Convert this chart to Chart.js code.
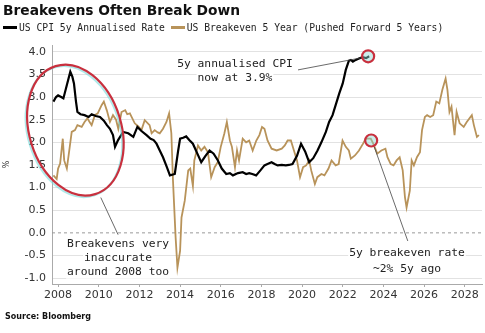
<!DOCTYPE html>
<html>
<head>
<meta charset="utf-8">
<script src="https://cdn.jsdelivr.net/npm/chart.js@4"></script>
<style>
  body { margin: 0; background: #fff; }
  #wrap { position: relative; width: 485px; height: 333px; overflow: hidden; }
  #chartBox { position: absolute; left: 0; top: 0; width: 485px; height: 333px; }
  #titulo { position: absolute; left: 3px; top: 2px; font: bold 13.8px "DejaVu Sans", sans-serif; color: #111; white-space: nowrap; }
  #leyenda { position: absolute; left: 3px; top: 22px; font: 9.7px "DejaVu Sans Mono", monospace; color: #222; white-space: nowrap; }
  #leyenda span.sw { display: inline-block; width: 14px; height: 3px; vertical-align: middle; margin-right: 2px; position: relative; top: -1px; }
  #fuente { position: absolute; left: 5px; top: 312px; font: bold 8px "DejaVu Sans", sans-serif; color: #111; }
</style>
</head>
<body>
<div id="wrap">
  <div id="chartBox"><canvas id="grafico"></canvas></div>
  <div id="titulo">Breakevens Often Break Down</div>
  <div id="leyenda"><span class="sw" style="background:#000"></span>US CPI 5y Annualised Rate <span class="sw" style="background:#b8935a"></span>US Breakeven 5 Year (Pushed Forward 5 Years)</div>
  <div id="fuente">Source: Bloomberg</div>
</div>
<script>
// US CPI 5y annualised rate (black)
const cpiAnios = [2007.77, 2007.9, 2008.0, 2008.15, 2008.26, 2008.45, 2008.6, 2008.7, 2008.78, 2008.88, 2008.95,
  2009.1, 2009.3, 2009.5, 2009.65, 2009.85, 2010.06, 2010.25, 2010.4, 2010.55, 2010.7, 2010.8, 2010.95,
  2011.2, 2011.45, 2011.7, 2011.9, 2012.1, 2012.35, 2012.55, 2012.7, 2012.84, 2013.0, 2013.16, 2013.35,
  2013.5, 2013.74, 2013.9, 2014.0, 2014.15, 2014.3, 2014.45, 2014.63, 2014.85, 2015.04, 2015.25, 2015.45,
  2015.65, 2015.86, 2016.05, 2016.27, 2016.45, 2016.6, 2016.85, 2017.08, 2017.25, 2017.4, 2017.55, 2017.74,
  2017.95, 2018.15, 2018.3, 2018.5, 2018.65, 2018.8, 2019.0, 2019.2, 2019.35, 2019.53, 2019.75, 2019.95,
  2020.15, 2020.35, 2020.55, 2020.76, 2020.95, 2021.17, 2021.33, 2021.5, 2021.67, 2021.83, 2022.0, 2022.15,
  2022.3, 2022.4, 2022.5, 2022.64, 2022.8, 2022.97, 2023.15, 2023.3];
const cpiValores = [2.9, 3.0, 3.04, 3.0, 2.97, 3.3, 3.56, 3.45, 3.3, 2.9, 2.67,
  2.62, 2.6, 2.56, 2.62, 2.58, 2.56, 2.48, 2.38, 2.3, 2.16, 1.9, 2.05,
  2.23, 2.2, 2.12, 2.34, 2.25, 2.16, 2.08, 2.05, 1.97, 1.82, 1.67, 1.45,
  1.27, 1.3, 1.8, 2.08, 2.1, 2.13, 2.05, 1.97, 1.75, 1.56, 1.7, 1.82,
  1.75, 1.6, 1.42, 1.3, 1.32, 1.27, 1.32, 1.34, 1.3, 1.32, 1.3, 1.27,
  1.38, 1.49, 1.52, 1.56, 1.52, 1.49, 1.5, 1.49, 1.5, 1.52, 1.7, 1.97,
  1.8, 1.56, 1.65, 1.82, 2.0, 2.23, 2.45, 2.6, 2.85, 3.08, 3.3, 3.6,
  3.8, 3.82, 3.78, 3.82, 3.85, 3.88, 3.86, 3.9];

// US breakeven 5 year, pushed forward 5 years (gold)
const beAnios = [2007.77, 2007.93, 2008.0, 2008.1, 2008.23, 2008.3, 2008.43, 2008.55, 2008.67, 2008.83, 2008.95,
  2009.16, 2009.3, 2009.44, 2009.55, 2009.65, 2009.81, 2009.95, 2010.14, 2010.25, 2010.4, 2010.55, 2010.7,
  2010.85, 2010.96, 2011.12, 2011.3, 2011.4, 2011.53, 2011.77, 2011.95, 2012.1, 2012.26, 2012.5, 2012.6,
  2012.75, 2012.9, 2013.0, 2013.16, 2013.33, 2013.46, 2013.57, 2013.65, 2013.78, 2013.87, 2014.0, 2014.07,
  2014.23, 2014.4, 2014.5, 2014.63, 2014.7, 2014.88, 2015.04, 2015.2, 2015.37, 2015.53, 2015.7, 2015.85,
  2016.0, 2016.18, 2016.3, 2016.45, 2016.55, 2016.7, 2016.8, 2016.9, 2017.08, 2017.25, 2017.4, 2017.57,
  2017.75, 2017.9, 2018.03, 2018.15, 2018.3, 2018.5, 2018.75, 2019.0, 2019.15, 2019.29, 2019.45, 2019.6,
  2019.75, 2019.9, 2020.05, 2020.2, 2020.35, 2020.45, 2020.63, 2020.75, 2020.95, 2021.1, 2021.3, 2021.45,
  2021.65, 2021.8, 2021.99, 2022.15, 2022.3, 2022.4, 2022.6, 2022.8, 2023.0, 2023.13, 2023.38, 2023.5,
  2023.7, 2023.9, 2024.1, 2024.2, 2024.36, 2024.5, 2024.65, 2024.8, 2024.95, 2025.06, 2025.14, 2025.3,
  2025.39, 2025.5, 2025.65, 2025.8, 2025.9, 2026.04, 2026.15, 2026.3, 2026.45, 2026.6, 2026.75, 2026.9,
  2027.06, 2027.15, 2027.25, 2027.35, 2027.5, 2027.6, 2027.75, 2027.95, 2028.1, 2028.35, 2028.45, 2028.6, 2028.7];
const beValores = [1.27, 1.19, 1.42, 1.53, 2.08, 1.6, 1.42, 1.82, 2.23, 2.27, 2.38,
  2.34, 2.45, 2.53, 2.45, 2.38, 2.6, 2.64, 2.82, 2.9, 2.7, 2.45, 2.6,
  2.5, 2.3, 2.67, 2.71, 2.62, 2.64, 2.42, 2.35, 2.27, 2.49, 2.38, 2.2,
  2.27, 2.22, 2.2, 2.3, 2.45, 2.64, 2.2, 1.16, -0.1, -0.77, -0.4, 0.34,
  0.71, 1.38, 1.42, 1.04, 1.6, 1.93, 1.82, 1.9, 1.78, 1.23, 1.45, 1.56,
  1.9, 2.2, 2.45, 2.04, 1.9, 1.45, 1.82, 1.6, 2.08, 2.0, 2.04, 1.82,
  2.04, 2.16, 2.34, 2.3, 2.04, 1.86, 1.82, 1.86, 1.93, 2.04, 2.04, 1.82,
  1.6, 1.23, 1.45, 1.49, 1.6, 1.38, 1.08, 1.23, 1.3, 1.27, 1.42, 1.6,
  1.49, 1.52, 2.04, 1.9, 1.82, 1.64, 1.71, 1.82, 1.97, 2.08, 2.08, 1.97,
  1.75, 1.82, 1.86, 1.67, 1.52, 1.49, 1.6, 1.67, 1.38, 0.79, 0.56, 0.93,
  1.6, 1.49, 1.67, 1.78, 2.27, 2.56, 2.6, 2.56, 2.6, 2.9, 2.86, 3.16,
  3.41, 3.16, 2.67, 2.79, 2.16, 2.67, 2.42, 2.34, 2.45, 2.6, 2.38, 2.12, 2.16];

const ejeXMin = 2007.7, ejeXMax = 2028.85;
const ejeYMin = -1.13, ejeYMax = 4.15;

// notas sobre el grafico (coordenadas en datos)
const circulos = [{ x: 2023.25, y: 3.9 }, { x: 2023.4, y: 2.04 }];
const ovalo = { x: 2008.85, y: 2.27 };
const notas = [
  { x: 2016.7, y: 3.73, lineas: ["5y annualised CPI", "now at 3.9%"], paso: 14 },
  { x: 2010.95, y: -0.24, lineas: ["Breakevens very", "inaccurate", "around 2008 too"], paso: 14 },
  { x: 2025.16, y: -0.44, lineas: ["5y breakeven rate", "~2% 5y ago"], paso: 16 }
];
const conectores = [
  [{ x: 2019.8, y: 3.6 }, { x: 2022.95, y: 3.87 }],
  [{ x: 2010.1, y: 0.78 }, { x: 2010.95, y: -0.04 }],
  [{ x: 2023.55, y: 1.9 }, { x: 2025.2, y: -0.18 }]
];

const pares = (xs, ys) => xs.map((x, i) => ({ x: x, y: ys[i] }));

const notasPlugin = {
    id: "notas",
    beforeDatasetsDraw(chart) {
        const { ctx, chartArea, scales } = chart;
        const y0 = scales.y.getPixelForValue(0);
        ctx.save();
        ctx.strokeStyle = "#9a9a9a";
        ctx.lineWidth = 1;
        ctx.setLineDash([3, 3]);
        ctx.beginPath();
        ctx.moveTo(chartArea.left, y0);
        ctx.lineTo(chartArea.right, y0);
        ctx.stroke();
        ctx.restore();
    },
    afterDatasetsDraw(chart) {
        const { ctx, scales } = chart;
        const px = p => [scales.x.getPixelForValue(p.x), scales.y.getPixelForValue(p.y)];
        ctx.save();

        // conectores
        ctx.strokeStyle = "#444";
        ctx.lineWidth = 0.8;
        conectores.forEach(c => {
            const a = px(c[0]), b = px(c[1]);
            ctx.beginPath();
            ctx.moveTo(a[0], a[1]);
            ctx.lineTo(b[0], b[1]);
            ctx.stroke();
        });

        // ovalo rojo
        const o = px(ovalo);
        ctx.strokeStyle = "rgba(120,220,220,0.6)";
        ctx.lineWidth = 2;
        ctx.beginPath();
        ctx.ellipse(o[0] - 1.5, o[1] + 1.5, 46, 67, -0.3, 0, Math.PI * 2);
        ctx.stroke();
        ctx.strokeStyle = "#c8303e";
        ctx.lineWidth = 2.2;
        ctx.beginPath();
        ctx.ellipse(o[0], o[1], 46, 67, -0.3, 0, Math.PI * 2);
        ctx.stroke();

        // circulos
        circulos.forEach(c => {
            const p = px(c);
            ctx.fillStyle = "rgba(140,215,210,0.45)";
            ctx.beginPath();
            ctx.arc(p[0], p[1], 6, 0, Math.PI * 2);
            ctx.fill();
            ctx.strokeStyle = "#c8303e";
            ctx.lineWidth = 2.2;
            ctx.stroke();
        });

        // textos
        ctx.fillStyle = "#222";
        ctx.font = '11.3px "DejaVu Sans Mono", monospace';
        ctx.textAlign = "center";
        ctx.textBaseline = "middle";
        notas.forEach(n => {
            const p = px(n);
            n.lineas.forEach((t, i) => {
                const w = ctx.measureText(t).width;
                ctx.fillStyle = "#fff";
                ctx.fillRect(p[0] - w / 2 - 1, p[1] + i * n.paso - 7, w + 2, 14);
                ctx.fillStyle = "#222";
                ctx.fillText(t, p[0], p[1] + i * n.paso);
            });
        });
        ctx.restore();
    }
};

new Chart(document.getElementById("grafico"), {
    type: "line",
    data: {
        datasets: [
            {
                label: "US CPI 5y Annualised Rate",
                data: pares(cpiAnios, cpiValores),
                borderColor: "#000",
                borderWidth: 2.2,
                pointRadius: 0,
                tension: 0
            },
            {
                label: "US Breakeven 5 Year (Pushed Forward 5 Years)",
                data: pares(beAnios, beValores),
                borderColor: "#b8935a",
                borderWidth: 1.8,
                pointRadius: 0,
                tension: 0
            }
        ]
    },
    options: {
        responsive: true,
        maintainAspectRatio: false,
        animation: false,
        layout: { padding: { top: 45, right: 3, bottom: 28, left: 0 } },
        plugins: {
            legend: { display: false },
            tooltip: { enabled: false }
        },
        scales: {
            x: {
                type: "linear",
                min: ejeXMin,
                max: ejeXMax,
                afterFit: s => { s.height = 21; },
                grid: { drawOnChartArea: false, drawTicks: true, tickLength: 3, color: "#aaa" },
                border: { display: true, color: "#aaa" },
                ticks: {
                    stepSize: 2,
                    includeBounds: false,
                    autoSkip: false,
                    maxRotation: 0,
                    padding: 2,
                    color: "#333",
                    font: { family: "DejaVu Sans", size: 11 },
                    callback: v => String(Math.round(v))
                }
            },
            y: {
                min: ejeYMin,
                max: ejeYMax,
                afterFit: s => { s.width = 52; },
                grid: {
                    drawTicks: false,
                    color: c => (Math.abs(c.tick.value) < 1e-9 ? "rgba(0,0,0,0)" : "#e2e2e2")
                },
                border: { display: true, color: "#aaa" },
                title: { display: true, text: "%", color: "#333", font: { family: "DejaVu Sans", size: 8 }, padding: { top: 2, bottom: 2 } },
                ticks: {
                    stepSize: 0.5,
                    includeBounds: false,
                    padding: 6,
                    color: "#333",
                    font: { family: "DejaVu Sans", size: 11 },
                    callback: v => v.toFixed(1)
                }
            }
        }
    },
    plugins: [notasPlugin]
});
</script>
</body>
</html>
